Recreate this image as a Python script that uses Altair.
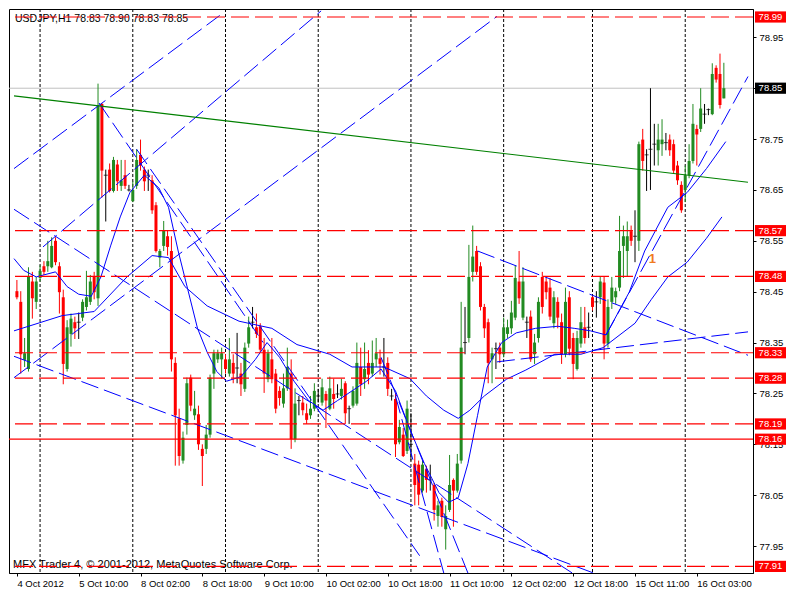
import altair as alt
import pandas as pd

# ---------------- data ----------------
bar_index = list(range(184))

opens = [78.451, 78.430, 78.316, 78.298, 78.470, 78.430, 78.477, 78.500, 78.500, 78.498,
         78.550, 78.500, 78.439, 78.298, 78.367, 78.390, 78.390, 78.399, 78.420, 78.430,
         78.479, 78.437, 78.819, 78.679, 78.690, 78.648, 78.700, 78.658, 78.679, 78.650,
         78.628, 78.658, 78.719, 78.690, 78.679, 78.669, 78.620, 78.517, 78.540, 78.559,
         78.530, 78.310, 78.201, 78.118, 78.188, 78.281, 78.207, 78.209, 78.141, 78.141,
         78.169, 78.289, 78.317, 78.317, 78.317, 78.289, 78.310, 78.300, 78.289, 78.259,
         78.348, 78.390, 78.380, 78.382, 78.336, 78.278, 78.317, 78.289, 78.255, 78.230,
         78.260, 78.289, 78.160, 78.236, 78.232, 78.211, 78.207, 78.220, 78.245, 78.232,
         78.249, 78.220, 78.249, 78.249, 78.245, 78.270, 78.220, 78.226, 78.230, 78.302,
         78.278, 78.310, 78.289, 78.317, 78.319, 78.302, 78.310, 78.245, 78.239, 78.154,
         78.169, 78.137, 78.150, 78.112, 78.110, 78.059, 78.101, 78.080, 78.070, 78.009,
         78.039, 77.983, 78.021, 78.080, 78.059, 78.118, 78.350, 78.359, 78.489, 78.530,
         78.500, 78.420, 78.390, 78.317, 78.338, 78.340, 78.327, 78.367, 78.378, 78.399,
         78.470, 78.399, 78.390, 78.401, 78.327, 78.359, 78.479, 78.470, 78.458, 78.388,
         78.430, 78.390, 78.327, 78.439, 78.359, 78.298, 78.348, 78.380, 78.380, 78.439,
         78.430, 78.439, 78.468, 78.348, 78.430, 78.439, 78.458, 78.540, 78.530, 78.569,
         78.559, 78.550, 78.749, 78.719, 78.730, 78.740, 78.728, 78.740, 78.743, 78.749,
         78.740, 78.698, 78.660, 78.650, 78.679, 78.707, 78.770, 78.770, 78.799, 78.808,
         78.799, 78.890, 78.878, 78.830]

highs = [78.473, 78.451, 78.359, 78.498, 78.489, 78.479, 78.502, 78.510, 78.550, 78.557,
         78.557, 78.508, 78.454, 78.394, 78.407, 78.401, 78.409, 78.435, 78.491, 78.483,
         78.489, 78.859, 78.821, 78.690, 78.702, 78.715, 78.709, 78.709, 78.709, 78.660,
         78.667, 78.730, 78.749, 78.696, 78.690, 78.679, 78.626, 78.534, 78.589, 78.570,
         78.559, 78.321, 78.220, 78.175, 78.281, 78.287, 78.255, 78.226, 78.150, 78.188,
         78.287, 78.336, 78.336, 78.340, 78.327, 78.359, 78.327, 78.369, 78.310, 78.350,
         78.401, 78.420, 78.407, 78.388, 78.359, 78.336, 78.359, 78.298, 78.264, 78.289,
         78.340, 78.317, 78.260, 78.245, 78.245, 78.230, 78.245, 78.270, 78.259, 78.279,
         78.255, 78.283, 78.279, 78.268, 78.279, 78.274, 78.226, 78.264, 78.350, 78.340,
         78.350, 78.335, 78.354, 78.359, 78.336, 78.359, 78.321, 78.259, 78.249, 78.198,
         78.182, 78.236, 78.211, 78.131, 78.118, 78.118, 78.108, 78.110, 78.074, 78.039,
         78.045, 78.030, 78.129, 78.083, 78.131, 78.430, 78.420, 78.542, 78.580, 78.540,
         78.508, 78.426, 78.397, 78.340, 78.350, 78.350, 78.399, 78.395, 78.432, 78.502,
         78.530, 78.498, 78.401, 78.413, 78.367, 78.439, 78.489, 78.477, 78.477, 78.451,
         78.439, 78.407, 78.458, 78.451, 78.369, 78.373, 78.420, 78.420, 78.409, 78.441,
         78.451, 78.479, 78.479, 78.435, 78.479, 78.458, 78.599, 78.580, 78.588, 78.580,
         78.610, 78.745, 78.770, 78.730, 78.850, 78.780, 78.780, 78.789, 78.762, 78.759,
         78.749, 78.707, 78.667, 78.698, 78.740, 78.819, 78.778, 78.850, 78.819, 78.810,
         78.899, 78.895, 78.918, 78.900]

lows = [78.435, 78.289, 78.302, 78.293, 78.397, 78.416, 78.470, 78.483, 78.489, 78.496,
        78.502, 78.407, 78.268, 78.293, 78.342, 78.357, 78.357, 78.392, 78.413, 78.424,
        78.435, 78.422, 78.635, 78.588, 78.645, 78.645, 78.648, 78.648, 78.652, 78.647,
        78.626, 78.652, 78.688, 78.648, 78.648, 78.603, 78.527, 78.498, 78.530, 78.521,
        78.293, 78.108, 78.108, 78.112, 78.169, 78.215, 78.198, 78.139, 78.068, 78.131,
        78.163, 78.259, 78.310, 78.279, 78.289, 78.283, 78.270, 78.270, 78.245, 78.253,
        78.340, 78.378, 78.359, 78.331, 78.251, 78.272, 78.270, 78.211, 78.226, 78.222,
        78.255, 78.141, 78.154, 78.207, 78.207, 78.190, 78.200, 78.215, 78.232, 78.226,
        78.182, 78.217, 78.220, 78.241, 78.238, 78.190, 78.190, 78.222, 78.226, 78.245,
        78.259, 78.268, 78.283, 78.302, 78.287, 78.283, 78.245, 78.236, 78.125, 78.150,
        78.125, 78.131, 78.118, 78.030, 78.030, 78.055, 78.055, 78.059, 78.000, 77.988,
        77.988, 77.943, 78.017, 77.988, 78.055, 78.112, 78.327, 78.350, 78.470, 78.483,
        78.413, 78.359, 78.270, 78.270, 78.298, 78.310, 78.321, 78.359, 78.367, 78.394,
        78.426, 78.394, 78.359, 78.312, 78.308, 78.350, 78.407, 78.435, 78.394, 78.378,
        78.378, 78.308, 78.321, 78.325, 78.278, 78.295, 78.340, 78.348, 78.359, 78.413,
        78.399, 78.426, 78.317, 78.340, 78.416, 78.426, 78.451, 78.477, 78.479, 78.540,
        78.508, 78.530, 78.688, 78.648, 78.650, 78.698, 78.698, 78.717, 78.728, 78.717,
        78.683, 78.660, 78.605, 78.626, 78.673, 78.702, 78.698, 78.764, 78.780, 78.797,
        78.797, 78.861, 78.810, 78.830]

closes = [78.439, 78.327, 78.329, 78.479, 78.437, 78.470, 78.491, 78.489, 78.510, 78.540,
          78.508, 78.449, 78.308, 78.380, 78.397, 78.378, 78.390, 78.430, 78.439, 78.470,
          78.449, 78.816, 78.688, 78.679, 78.648, 78.709, 78.667, 78.669, 78.658, 78.650,
          78.650, 78.709, 78.698, 78.667, 78.679, 78.610, 78.530, 78.530, 78.570, 78.538,
          78.317, 78.207, 78.127, 78.163, 78.270, 78.226, 78.220, 78.150, 78.127, 78.169,
          78.281, 78.329, 78.329, 78.329, 78.298, 78.317, 78.289, 78.300, 78.268, 78.340,
          78.380, 78.390, 78.367, 78.336, 78.289, 78.329, 78.278, 78.220, 78.241, 78.260,
          78.302, 78.160, 78.230, 78.236, 78.217, 78.198, 78.220, 78.255, 78.245, 78.262,
          78.236, 78.260, 78.239, 78.249, 78.259, 78.211, 78.220, 78.255, 78.310, 78.268,
          78.298, 78.287, 78.310, 78.329, 78.308, 78.302, 78.259, 78.245, 78.150, 78.184,
          78.127, 78.220, 78.150, 78.070, 78.051, 78.110, 78.080, 78.080, 78.021, 78.030,
          78.007, 78.009, 78.070, 78.059, 78.112, 78.340, 78.350, 78.479, 78.519, 78.489,
          78.420, 78.378, 78.310, 78.329, 78.338, 78.327, 78.380, 78.380, 78.409, 78.477,
          78.437, 78.470, 78.390, 78.317, 78.350, 78.430, 78.420, 78.449, 78.401, 78.439,
          78.399, 78.327, 78.430, 78.338, 78.308, 78.359, 78.390, 78.359, 78.380, 78.420,
          78.430, 78.470, 78.348, 78.420, 78.458, 78.451, 78.530, 78.559, 78.559, 78.550,
          78.559, 78.740, 78.707, 78.719, 78.730, 78.740, 78.749, 78.749, 78.743, 78.728,
          78.688, 78.669, 78.610, 78.679, 78.707, 78.780, 78.759, 78.810, 78.799, 78.808,
          78.878, 78.867, 78.817, 78.850]

# time axis: one label every 16 bars
x_tick_bars = [0, 16, 32, 48, 64, 80, 96, 112, 128, 144, 160, 176]
x_tick_labels = ["4 Oct 2012", "5 Oct 10:00", "8 Oct 02:00", "8 Oct 18:00",
                 "9 Oct 10:00", "10 Oct 02:00", "10 Oct 18:00", "11 Oct 10:00",
                 "12 Oct 02:00", "12 Oct 18:00", "15 Oct 11:00", "16 Oct 03:00"]
# day separators (bar index of each day start)
separator_bars = [6, 30, 54, 78, 102, 126, 149, 173]

# price axis
y_tick_values = [77.95, 78.05, 78.15, 78.25, 78.35, 78.45, 78.55, 78.65, 78.75, 78.85, 78.95]

# horizontal levels
dashed_levels = [78.99, 78.57, 78.48, 78.33, 78.28, 78.19, 77.91]
solid_levels = [78.16]
current_price = [78.85]

# green trend line
green_bars = [-0.75, 189.25]
green_prices = [78.835, 78.665]

# blue dashed trend lines (two end points each)
trend_names = ["T1", "T1", "T2", "T2", "T3", "T3", "T4", "T4", "T5", "T5",
               "T6", "T6", "T7", "T7", "T11", "T11", "T12", "T12", "T13", "T13",
               "T14", "T14", "T15", "T15"]
trend_bars = [-0.75, 52.5, 6.75, 78.75, -0.75, 124.25, 21.25, 63.75, 31, 104.25,
              -0.75, 143.75, -0.75, 149.25, 119.25, 189.25, 124.25, 189.25, 94.25, 116.75,
              98, 110.5, 152.5, 189.25]
trend_prices = [78.692, 78.993, 78.538, 79.002, 78.281, 78.991, 78.821, 78.350, 78.730, 77.931,
                78.612, 77.897, 78.323, 77.897, 78.530, 78.325, 78.312, 78.371, 78.321, 77.897,
                78.245, 77.897, 78.365, 78.873]

# moving averages (solid blue)
ma_fast_bars = [-0.75, 1.75, 5, 10, 13, 16, 19.25, 21.75, 24.25, 26.75, 29.25, 33, 36.75,
                39.25, 41.75, 44.25, 46.75, 49.25, 51.75, 54.25, 58, 61.75, 64.75, 68,
                71.75, 75.5, 79.25, 83, 86.75, 90.5, 94.25, 98, 101.75, 105.5, 109.25,
                111.75, 114.25, 116.75, 119.25, 121.75, 125.5, 129.25, 134.25, 140,
                144.25, 148.5, 152.5, 158.5, 162.5, 168.5, 173.5, 178.5, 183.5]
ma_fast_prices = [78.515, 78.492, 78.479, 78.489, 78.460, 78.445, 78.441, 78.479, 78.540,
                  78.597, 78.645, 78.679, 78.654, 78.616, 78.530, 78.454, 78.378, 78.331,
                  78.293, 78.274, 78.283, 78.317, 78.350, 78.321, 78.274, 78.236, 78.217,
                  78.236, 78.255, 78.274, 78.298, 78.255, 78.179, 78.112, 78.055, 78.036,
                  78.045, 78.112, 78.207, 78.302, 78.350, 78.369, 78.378, 78.382, 78.378,
                  78.373, 78.365, 78.449, 78.530, 78.616, 78.645, 78.692, 78.745]
ma_mid_bars = [-0.75, 11.75, 20, 28.5, 35, 39.25, 43.5, 49.25, 57.5, 66, 72.5, 81, 86.75,
               95, 101.75, 106, 110.5, 114.25, 117.25, 121, 126.75, 131.75, 139.25, 146,
               151.75, 160, 164.25, 168.5, 173.5, 178.5, 182.5]
ma_mid_prices = [78.373, 78.403, 78.411, 78.479, 78.521, 78.517, 78.460, 78.422, 78.392,
                 78.378, 78.346, 78.327, 78.302, 78.302, 78.279, 78.245, 78.217, 78.201,
                 78.217, 78.245, 78.278, 78.296, 78.327, 78.327, 78.340, 78.388, 78.435,
                 78.479, 78.508, 78.555, 78.597]

title_text = ["USDJPY,H1  78.83 78.90 78.83 78.85"]
footer_text = ["MFX Trader 4, \u00a9 2001-2012, MetaQuotes Software Corp."]
wave_label_bar = [164.5]
wave_label_price = [78.515]
wave_label_text = ["1"]

# ---------------- chart ----------------
W, H = 744, 564
FONT = "Liberation Sans"
GREEN = "#228B22"
RED = "#FF0000"
BLUE = "#0000FF"

xs = alt.Scale(domain=[-0.75, 189.25], nice=False, zero=False)
ys = alt.Scale(domain=[77.897, 79.0057], nice=False, zero=False)

label_expr = "[" + ",".join("'" + s + "'" for s in x_tick_labels) + "][round(datum.value / 16)]"
xax = alt.Axis(values=x_tick_bars, labelExpr=label_expr, labelAlign="left", labelBaseline="top",
               labelPadding=2, tickSize=3, tickColor="black", domainColor="black",
               labelColor="black", labelFont=FONT, labelFontSize=9.5, title=None, grid=False,
               labelOverlap=False, labelFlush=False)
yax = alt.Axis(orient="right", values=y_tick_values, format=".2f", tickSize=3, tickColor="black",
               domainColor="black", labelColor="black", labelFont=FONT, labelFontSize=9.5,
               labelPadding=3, title=None, grid=False, labelOverlap=False, labelFlush=False)


def X(field):
    return alt.X(field, type="quantitative", scale=xs, axis=xax)


def Y(field):
    return alt.Y(field, type="quantitative", scale=ys, axis=yax)


candles = pd.DataFrame({"i": bar_index, "open": opens, "high": highs, "low": lows, "close": closes})
base = alt.Chart(candles).transform_calculate(
    kind="datum.close > datum.open ? 'up' : (datum.close < datum.open ? 'down' : 'doji')"
)
color = alt.Color("kind:N", scale=alt.Scale(domain=["up", "down", "doji"], range=[GREEN, RED, "black"]),
                  legend=None)

wicks = base.mark_rule(strokeWidth=1).encode(x=X("i"), y=Y("low"), y2="high:Q", color=color)
bodies = base.transform_filter("datum.kind != 'doji'").mark_bar(size=3).encode(
    x=X("i"), y=Y("open"), y2="close:Q", color=color)
dojis = base.transform_filter("datum.kind == 'doji'").mark_tick(
    orient="horizontal", size=4, thickness=1, color="black").encode(x=X("i"), y=Y("open"))

separators = alt.Chart(pd.DataFrame({"i": separator_bars})).mark_rule(
    color="black", strokeDash=[3, 2], strokeWidth=1).encode(x=X("i"))

dash_lv = alt.Chart(pd.DataFrame({"p": dashed_levels})).mark_rule(
    color=RED, strokeDash=[18, 6], strokeWidth=1.2).encode(y=Y("p"))
solid_lv = alt.Chart(pd.DataFrame({"p": solid_levels})).mark_rule(
    color=RED, strokeWidth=1.2).encode(y=Y("p"))
price_line = alt.Chart(pd.DataFrame({"p": current_price})).mark_rule(
    color="#C0C0C0", strokeWidth=1).encode(y=Y("p"))

green_line = alt.Chart(pd.DataFrame({"i": green_bars, "p": green_prices})).mark_line(
    color="#008000", strokeWidth=1.1, clip=True).encode(x=X("i"), y=Y("p"))

trends = alt.Chart(pd.DataFrame({"name": trend_names, "i": trend_bars, "p": trend_prices})).mark_line(
    color=BLUE, strokeWidth=1, strokeDash=[18, 6], clip=True).encode(
    x=X("i"), y=Y("p"), detail="name:N")

ma_df = pd.concat([
    pd.DataFrame({"name": "fast", "i": ma_fast_bars, "p": ma_fast_prices}),
    pd.DataFrame({"name": "mid", "i": ma_mid_bars, "p": ma_mid_prices}),
])
mas = alt.Chart(ma_df).mark_line(color=BLUE, strokeWidth=1, clip=True).encode(
    x=X("i"), y=Y("p"), detail="name:N")

all_levels = pd.DataFrame({"p": dashed_levels + solid_levels})
box_half = 0.011
red_boxes = alt.Chart(all_levels).transform_calculate(
    lo="datum.p - %f" % box_half, hi="datum.p + %f" % box_half
).mark_rect(color=RED).encode(x=alt.value(W + 2), x2=alt.value(W + 33), y=Y("lo"), y2="hi:Q")
red_box_text = alt.Chart(all_levels).mark_text(
    color="white", font=FONT, fontSize=9.5, align="center", baseline="middle").encode(
    x=alt.value(W + 17.5), y=Y("p"), text=alt.Text("p:Q", format=".2f"))

cp_df = pd.DataFrame({"p": current_price})
black_box = alt.Chart(cp_df).transform_calculate(
    lo="datum.p - %f" % box_half, hi="datum.p + %f" % box_half
).mark_rect(color="black").encode(x=alt.value(W + 2), x2=alt.value(W + 33), y=Y("lo"), y2="hi:Q")
black_box_text = alt.Chart(cp_df).mark_text(
    color="white", font=FONT, fontSize=9.5, align="center", baseline="middle").encode(
    x=alt.value(W + 17.5), y=Y("p"), text=alt.Text("p:Q", format=".2f"))

title = alt.Chart(pd.DataFrame({"t": title_text})).mark_text(
    align="left", baseline="middle", font=FONT, fontSize=10.5, color="black").encode(
    x=alt.value(6), y=alt.value(10), text="t:N")
footer = alt.Chart(pd.DataFrame({"t": footer_text})).mark_text(
    align="left", baseline="middle", font=FONT, fontSize=11, color="black").encode(
    x=alt.value(4), y=alt.value(H - 8), text="t:N")
wave = alt.Chart(pd.DataFrame({"i": wave_label_bar, "p": wave_label_price, "t": wave_label_text})).mark_text(
    font=FONT, fontSize=13, color="#F07A20", fontWeight="bold").encode(x=X("i"), y=Y("p"), text="t:N")

chart = alt.layer(
    title, footer, separators, price_line,
    wicks, bodies, dojis,
    mas, trends, green_line, dash_lv, solid_lv,
    red_boxes, red_box_text, black_box, black_box_text, wave,
).properties(
    width=W, height=H, padding=0, background="white"
).configure_view(
    stroke="black", strokeWidth=1
)

chart.save("out.html", embed_options={"renderer": "svg", "actions": False})
